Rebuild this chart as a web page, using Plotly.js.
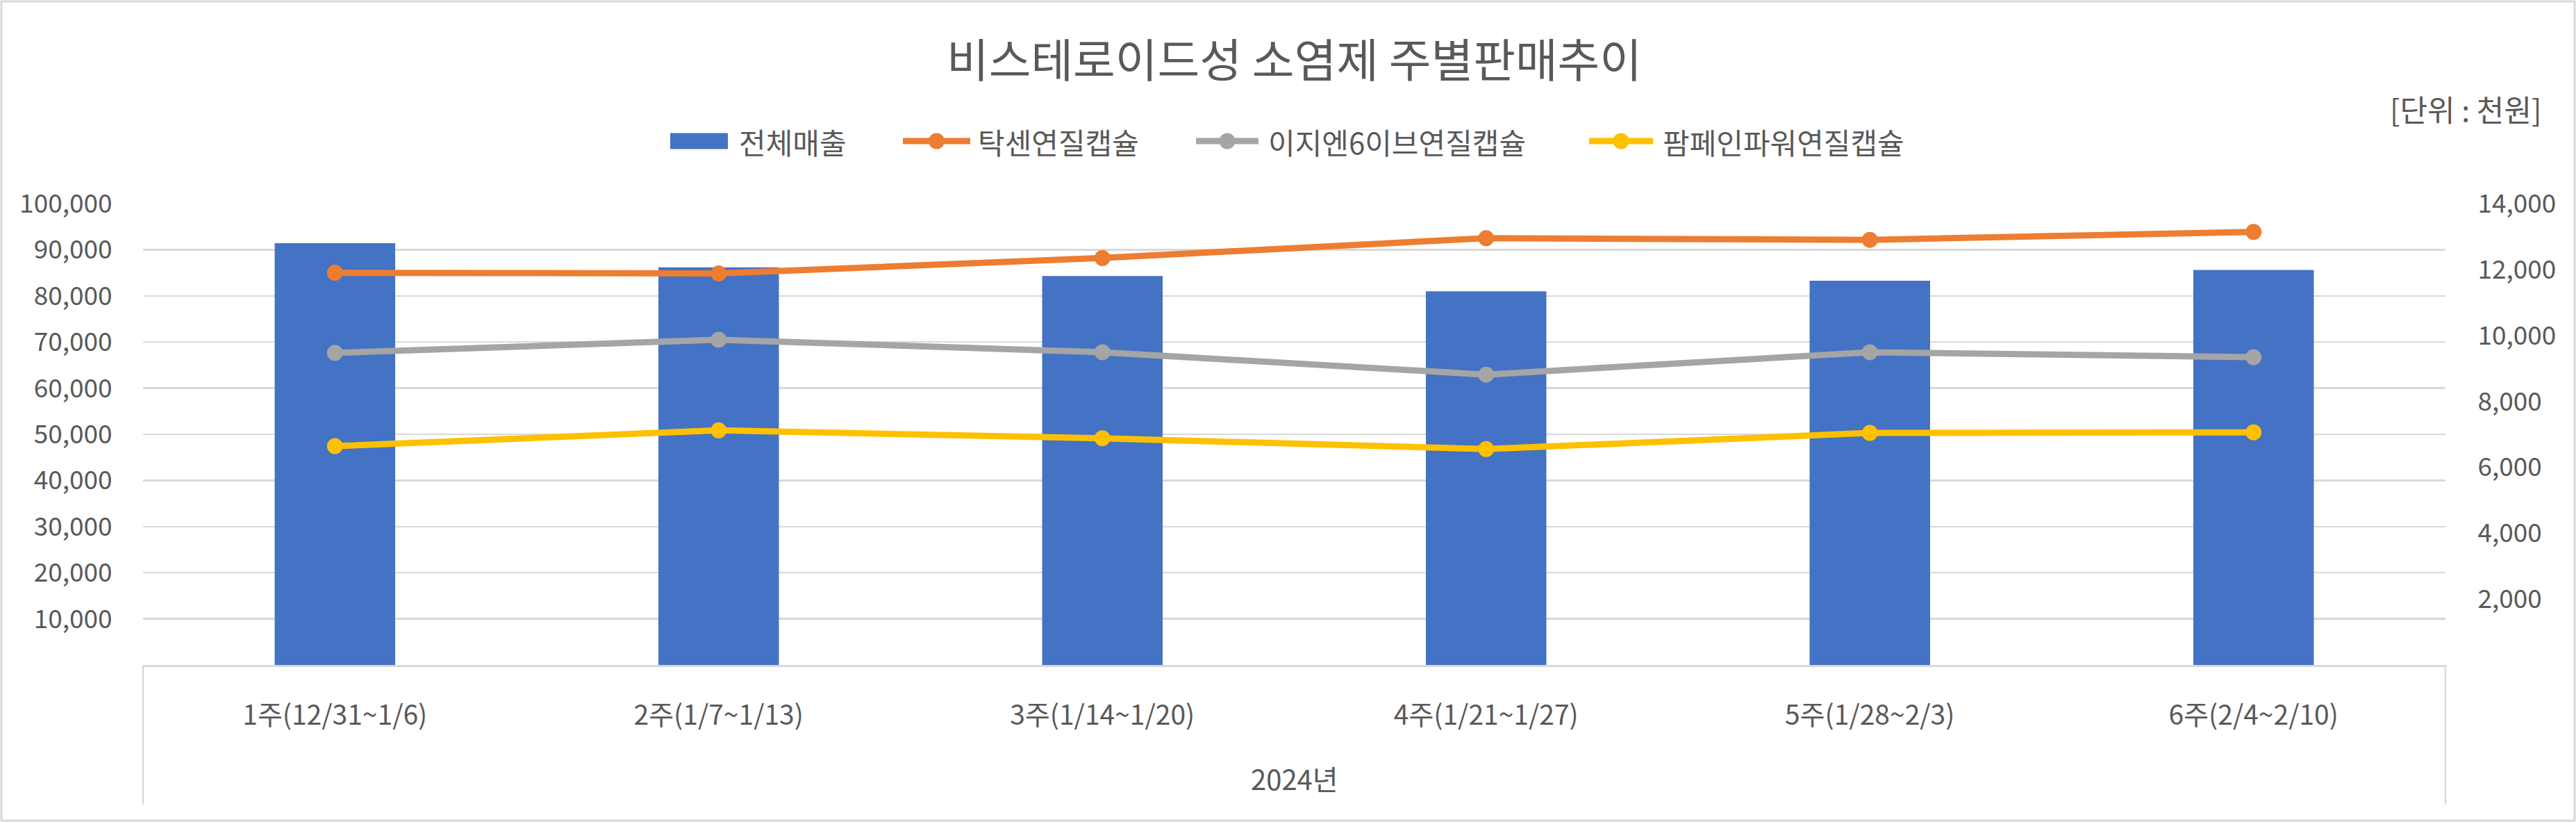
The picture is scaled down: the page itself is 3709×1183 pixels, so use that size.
<!DOCTYPE html>
<html>
<head>
<meta charset="utf-8">
<script src="https://cdn.plot.ly/plotly-3.0.1.min.js"></script>
<style>html,body{margin:0;padding:0;background:#fff;}#chart{width:3709px;height:1183px;}</style>
</head>
<body>
<div id="chart"></div>
<script>
// ---- data ----
const categories = ['1주(12/31~1/6)','2주(1/7~1/13)','3주(1/14~1/20)','4주(1/21~1/27)','5주(1/28~2/3)','6주(2/4~2/10)'];
const totalSales = [91400, 86200, 84300, 81000, 83300, 85600];
const taxen = [11900, 11880, 12350, 12950, 12900, 13140];
const easyn6 = [9470, 9870, 9490, 8810, 9490, 9340];
const pampain = [6640, 7120, 6880, 6550, 7040, 7060];
const seriesNames = ['전체매출','탁센연질캡슐','이지엔6이브연질캡슐','팜페인파워연질캡슐'];
const leftTicks = [10000,20000,30000,40000,50000,60000,70000,80000,90000,100000];
const rightTicks = [2000,4000,6000,8000,10000,12000,14000];
const chartTitle = '비스테로이드성 소염제 주별판매추이';
const unitText = '[단위 : 천원]';
const groupLabel = '2024년';

// ---- styling / layout ----
const W = 3709, H = 1183;
const M = {l:206, r:188, t:293, b:226};
const PW = W - M.l - M.r, PH = H - M.t - M.b;
const xp = px => (px - M.l) / PW;
const yp = py => (H - M.b - py) / PH;
const FONT = '"Noto Sans CJK KR", "Noto Sans", sans-serif';
const TXT = '#595959';
const colors = ['#4472C4','#ED7D31','#A5A5A5','#FFC000'];
const fmt = v => v.toLocaleString('en-US');

const lineSeries = [taxen, easyn6, pampain];
const traces = [{
  type:'bar', x:categories, y:totalSales, name:seriesNames[0],
  marker:{color:colors[0]}, yaxis:'y', hoverinfo:'skip'
}];
lineSeries.forEach((s,i)=>{
  traces.push({
    type:'scatter', mode:'lines+markers', x:categories, y:s, name:seriesNames[i+1],
    yaxis:'y2', line:{color:colors[i+1], width:9}, marker:{color:colors[i+1], size:23},
    hoverinfo:'skip'
  });
});

const shapes = [
  {type:'rect', xref:'paper', yref:'paper', x0:xp(2), x1:xp(3707), y0:yp(1181), y1:yp(2),
   line:{color:'#d9d9d9', width:3}, layer:'below'},
  {type:'line', xref:'paper', yref:'paper', x0:0, x1:0, y0:0, y1:yp(1158), line:{color:'#d9d9d9', width:2.5}},
  {type:'line', xref:'paper', yref:'paper', x0:1, x1:1, y0:0, y1:yp(1158), line:{color:'#d9d9d9', width:2.5}}
];
// custom legend
const legY = 203;
const legItems = [
  {sx0:965, sx1:1048, tx:1062},
  {sx0:1300, sx1:1397, tx:1406},
  {sx0:1722, sx1:1812, tx:1824},
  {sx0:2288, sx1:2380, tx:2392}
];
const annotations = [];
legItems.forEach((it,i)=>{
  if(i===0){
    shapes.push({type:'rect', xref:'paper', yref:'paper', x0:xp(it.sx0), x1:xp(it.sx1),
      y0:yp(legY+11.5), y1:yp(legY-11.5), fillcolor:colors[0], line:{width:0}});
  } else {
    shapes.push({type:'line', xref:'paper', yref:'paper', x0:xp(it.sx0), x1:xp(it.sx1),
      y0:yp(legY), y1:yp(legY), line:{color:colors[i], width:9}});
    const cx = (it.sx0+it.sx1)/2;
    shapes.push({type:'circle', xref:'paper', yref:'paper', x0:xp(cx-11.5), x1:xp(cx+11.5),
      y0:yp(legY+11.5), y1:yp(legY-11.5), fillcolor:colors[i], line:{width:0}});
  }
  annotations.push({xref:'paper', yref:'paper', x:xp(it.tx), y:yp(legY), xanchor:'left', yanchor:'middle',
    text:seriesNames[i], showarrow:false, font:{family:FONT, size:42, color:TXT}});
});
annotations.push({xref:'paper', yref:'paper', x:xp(3662), y:yp(156), xanchor:'right', yanchor:'middle',
  text:unitText, showarrow:false, font:{family:FONT, size:43, color:TXT}});
annotations.push({xref:'paper', yref:'paper', x:0.5, y:yp(1120), xanchor:'center', yanchor:'middle',
  text:groupLabel, showarrow:false, font:{family:FONT, size:40, color:TXT}});

const layout = {
  width:W, height:H, margin:M, paper_bgcolor:'#fff', plot_bgcolor:'#fff',
  showlegend:false, bargap:0.686,
  font:{family:FONT, color:TXT, size:37},
  title:{text:chartTitle, x:0.5, xref:'paper', xanchor:'center', y:1-88/H, yref:'container', yanchor:'middle',
    font:{family:FONT, size:66, color:TXT}},
  xaxis:{type:'category', showgrid:false, showline:true, linecolor:'#d9d9d9', linewidth:3,
    ticks:'outside', ticklen:36, tickcolor:'rgba(0,0,0,0)', tickfont:{family:FONT, size:39, color:TXT},
    fixedrange:true, automargin:false},
  yaxis:{range:[0,100000], tickvals:leftTicks, ticktext:leftTicks.map(fmt), showgrid:true,
    gridcolor:'#d9d9d9', gridwidth:2.5, zeroline:false, showline:false,
    ticks:'outside', ticklen:36, tickcolor:'rgba(0,0,0,0)', tickfont:{family:FONT, size:37, color:TXT},
    automargin:false},
  yaxis2:{range:[0,14000], overlaying:'y', side:'right', tickvals:rightTicks, ticktext:rightTicks.map(fmt),
    showgrid:false, zeroline:false, showline:false,
    ticks:'outside', ticklen:38, tickcolor:'rgba(0,0,0,0)', tickfont:{family:FONT, size:37, color:TXT},
    automargin:false},
  shapes:shapes, annotations:annotations
};
Plotly.newPlot('chart', traces, layout, {staticPlot:true, displayModeBar:false});
</script>
</body>
</html>
